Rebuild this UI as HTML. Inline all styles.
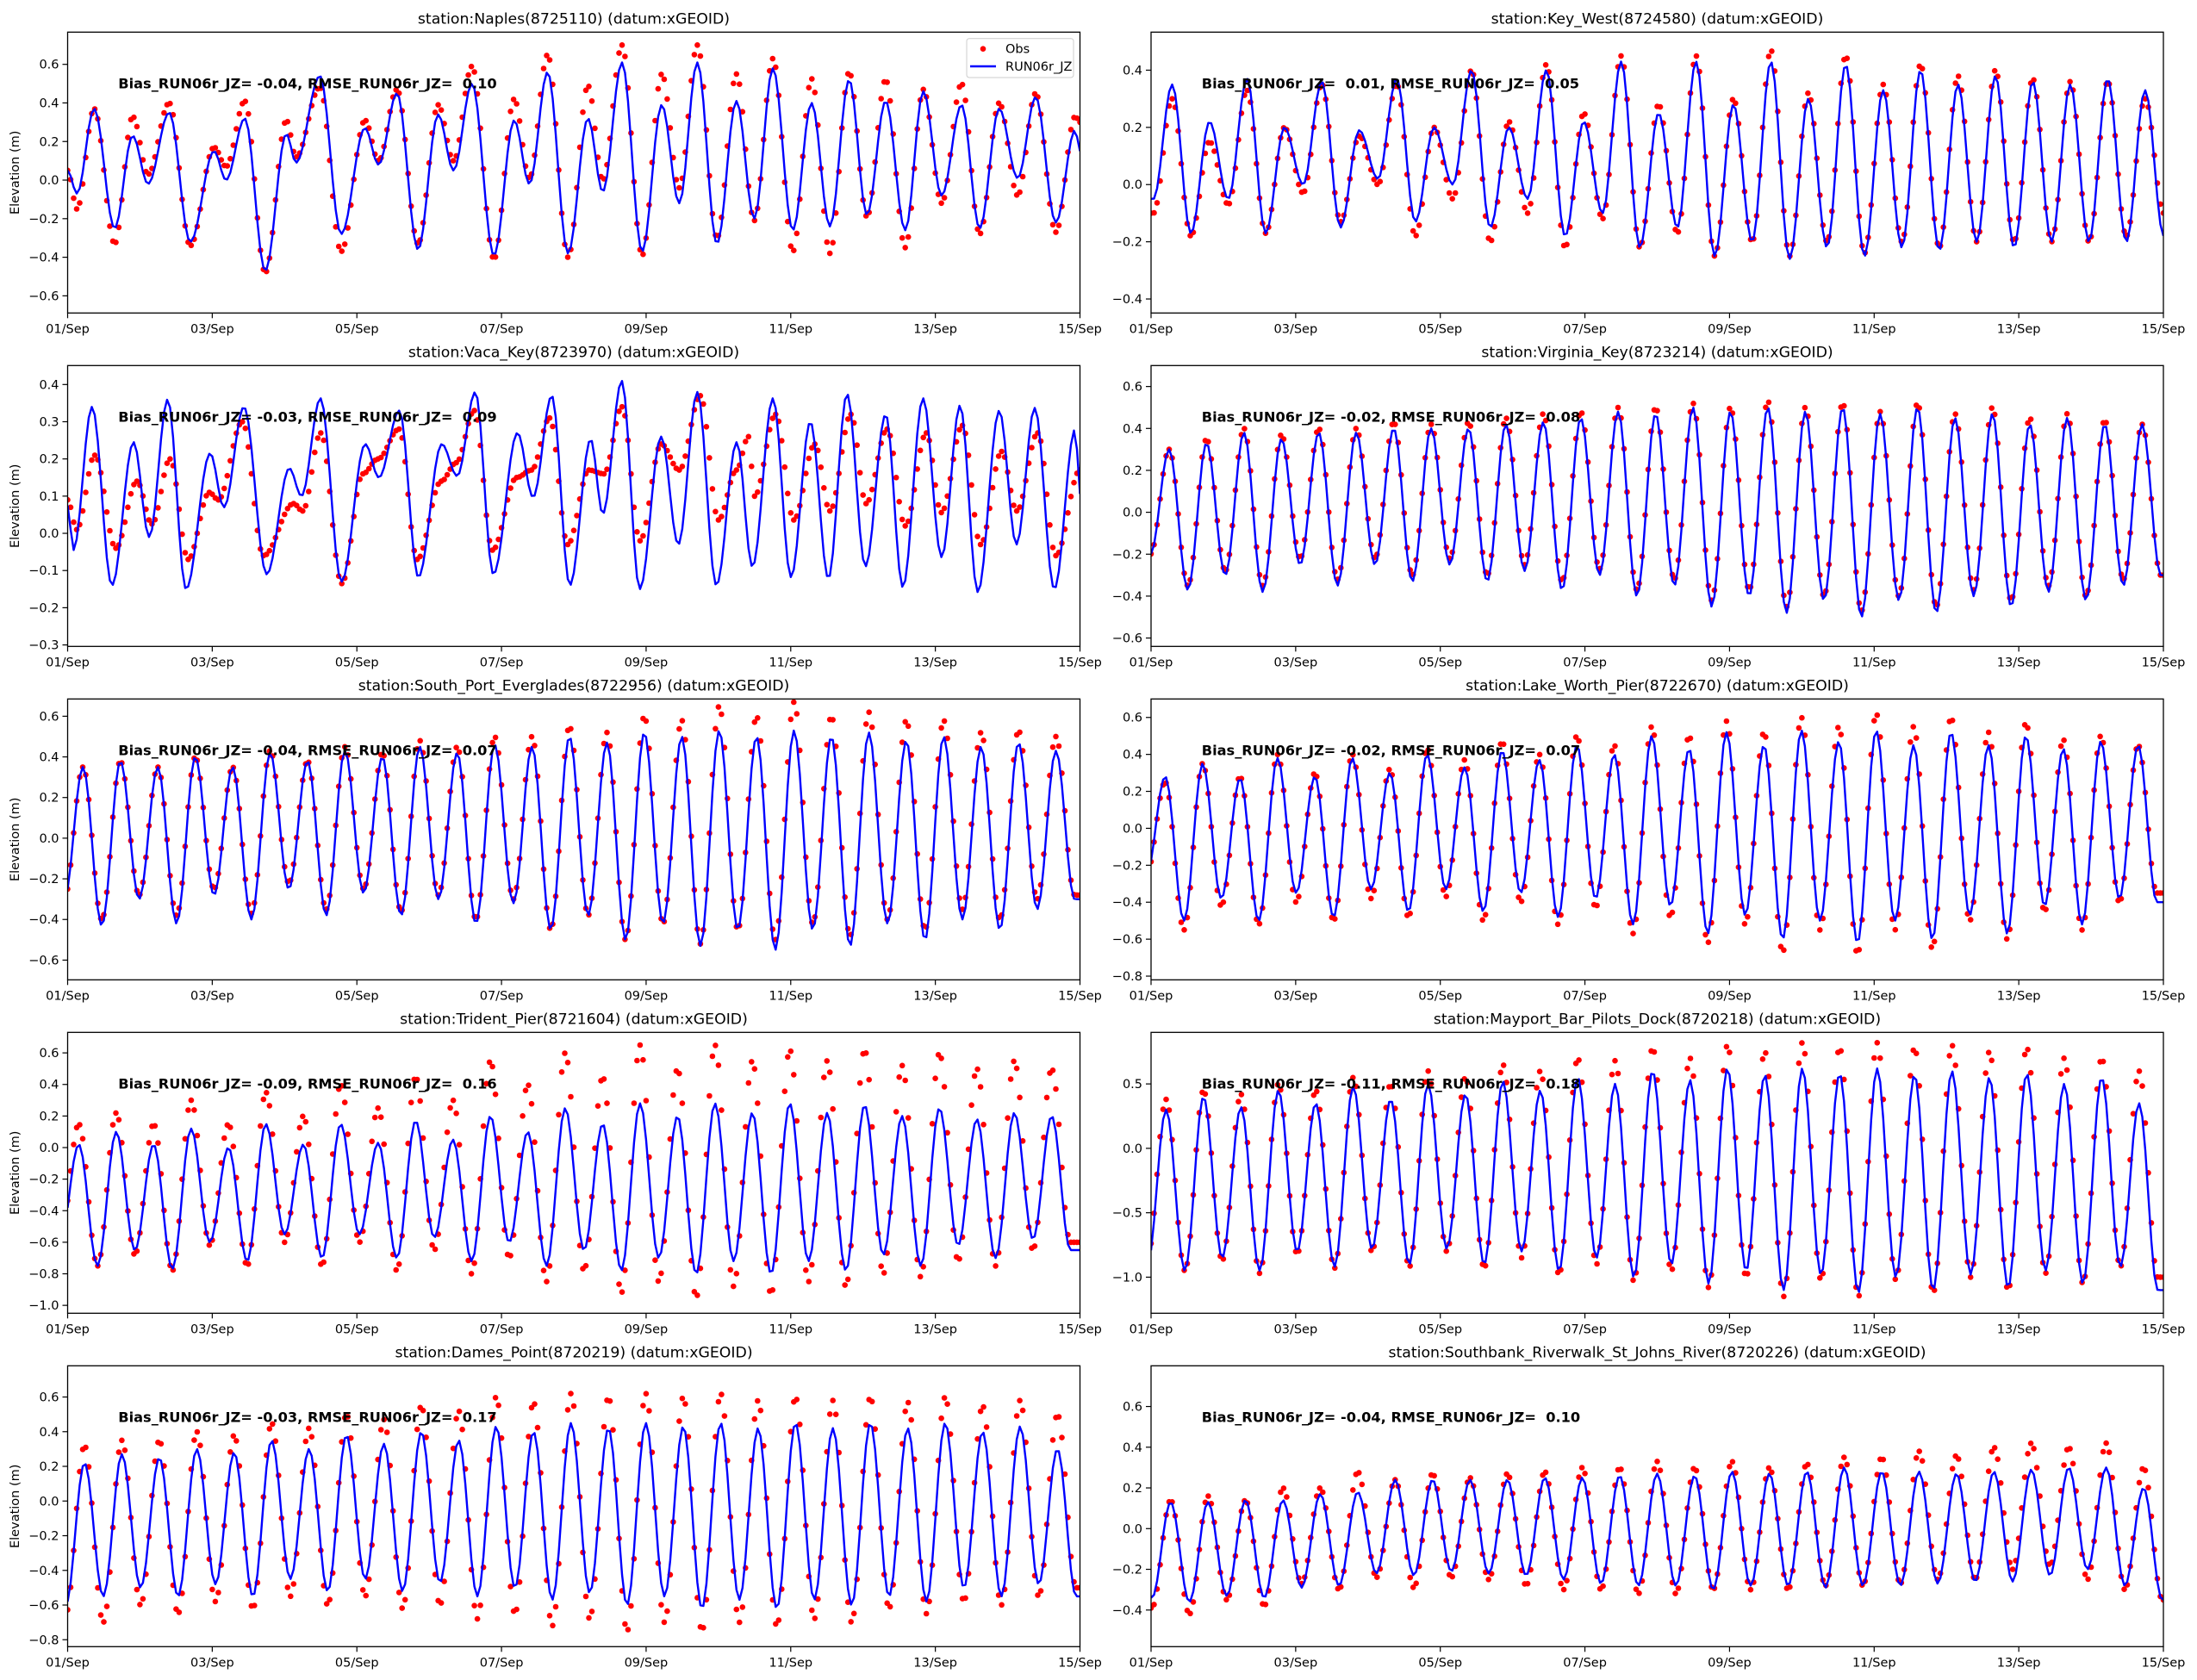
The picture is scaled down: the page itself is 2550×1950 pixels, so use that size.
<!DOCTYPE html>
<html><head><meta charset="utf-8">
<style>
html,body{margin:0;padding:0;background:#fff;}
svg{display:block;font-family:"DejaVu Sans","Liberation Sans",sans-serif;}
</style></head>
<body>
<svg id="fig" width="2550" height="1950" viewBox="0 0 2550 1950" xmlns="http://www.w3.org/2000/svg">
<rect width="2550" height="1950" fill="#fff"/>
</svg>
<script>
// ---------- data (hours from 01/Sep 00:00, elevation m) ----------
const xTickLabels = ["01/Sep","03/Sep","05/Sep","07/Sep","09/Sep","11/Sep","13/Sep","15/Sep"];
const stationNames = ["Naples(8725110)","Key_West(8724580)","Vaca_Key(8723970)","Virginia_Key(8723214)","South_Port_Everglades(8722956)","Lake_Worth_Pier(8722670)","Trident_Pier(8721604)","Mayport_Bar_Pilots_Dock(8720218)","Dames_Point(8720219)","Southbank_Riverwalk_St_Johns_River(8720226)"];
const biasValues = ["-0.04"," 0.01","-0.03","-0.02","-0.04","-0.02","-0.09","-0.11","-0.03","-0.04"];
const rmseValues = [" 0.10"," 0.05"," 0.09"," 0.08"," 0.07"," 0.07"," 0.16"," 0.18"," 0.17"," 0.10"];
const yLimits = [[-0.689,0.767],[-0.449,0.533],[-0.304,0.451],[-0.64,0.70],[-0.697,0.685],[-0.82,0.70],[-1.05,0.73],[-1.28,0.90],[-0.84,0.78],[-0.58,0.80]];
const yTickValues = [[-0.6,-0.4,-0.2,0,0.2,0.4,0.6],[-0.4,-0.2,0,0.2,0.4],[-0.3,-0.2,-0.1,0,0.1,0.2,0.3,0.4],[-0.6,-0.4,-0.2,0,0.2,0.4,0.6],[-0.6,-0.4,-0.2,0,0.2,0.4,0.6],[-0.8,-0.6,-0.4,-0.2,0,0.2,0.4,0.6],[-1.0,-0.8,-0.6,-0.4,-0.2,0,0.2,0.4,0.6],[-1.0,-0.5,0,0.5],[-0.8,-0.6,-0.4,-0.2,0,0.2,0.4,0.6],[-0.4,-0.2,0,0.2,0.4,0.6]];

const naplesT = [0,3.1,8.8,15.6,21.6,26.7,33.7,40.7,48.6,52.6,58.8,65.6,72.6,75.8,83.7,90.8,98.7,103.2,109.3,116.3,123,128.1,134.2,141.5,148.2,153.3,159.3,166.1,172.7,177.6,184,190.7,197.2,203,209,215.5,222,227.9,234.1,240.7,246.9,253,259.4,265.3,271.5,278,284,290.1,296.7,302.7,309.2,315.3,321.3,328,334.4,336];
const naplesModel = [0.05,-0.07,0.37,-0.25,0.23,-0.02,0.35,-0.32,0.15,0.0,0.32,-0.47,0.24,0.09,0.54,-0.28,0.27,0.08,0.45,-0.36,0.34,0.05,0.5,-0.39,0.31,-0.02,0.56,-0.38,0.32,-0.06,0.61,-0.37,0.39,-0.12,0.61,-0.33,0.41,-0.2,0.58,-0.26,0.40,-0.24,0.52,-0.18,0.41,-0.26,0.46,-0.08,0.39,-0.25,0.37,0.01,0.43,-0.22,0.26,0.15];
const naplesObs = [0.05,-0.15,0.37,-0.33,0.33,0.03,0.4,-0.34,0.17,0.07,0.41,-0.48,0.31,0.12,0.48,-0.37,0.31,0.1,0.47,-0.33,0.39,0.1,0.59,-0.41,0.42,0.01,0.65,-0.4,0.49,0.0,0.70,-0.39,0.55,-0.04,0.70,-0.3,0.55,-0.21,0.63,-0.37,0.525,-0.38,0.56,-0.19,0.52,-0.35,0.47,-0.12,0.5,-0.28,0.40,-0.08,0.45,-0.27,0.33,0.3];

const vacaT = [0,1.9,8.1,14.7,21.9,27.1,33.2,39.3,47.3,51.9,58.5,66.1,73.6,77.6,83.9,90.9,98.8,103.3,110.1,116.4,124.2,129.3,135.3,141.3,149.3,154.5,160.7,166.7,173.6,177.6,183.9,189.9,197,202.7,209,215.3,222.1,227.3,234.1,240.1,246.5,252.5,258.7,264.8,271.5,277.2,283.9,290.1,296.2,302.1,309.2,314.9,321,327.5,334.4,336];
const vacaModel = [0.075,-0.045,0.34,-0.14,0.245,-0.01,0.36,-0.15,0.215,0.07,0.34,-0.11,0.175,0.1,0.363,-0.13,0.24,0.15,0.33,-0.118,0.24,0.154,0.38,-0.11,0.27,0.097,0.37,-0.14,0.253,0.052,0.41,-0.15,0.26,-0.03,0.38,-0.14,0.245,-0.09,0.363,-0.118,0.3,-0.122,0.375,-0.089,0.32,-0.145,0.363,-0.064,0.344,-0.158,0.33,-0.03,0.337,-0.15,0.28,0.106];
const vacaObsT = [0,3,9,16,23,28,34,40,47,50,58,65,75,78,84,91,98,103,110,116,124,129,135,141,149,154,160,166,173,178,184,190,197,203,210,216,222,226,228,235,241,248,253,260,265,272,278,285,290,297,303,310,315,322,328,336];
const vacaObs = [0.09,0.01,0.21,-0.04,0.14,0.025,0.2,-0.07,0.11,0.09,0.3,-0.06,0.08,0.06,0.27,-0.135,0.16,0.2,0.28,-0.07,0.14,0.19,0.33,-0.045,0.15,0.17,0.31,-0.03,0.17,0.16,0.34,-0.02,0.24,0.17,0.37,0.036,0.17,0.26,0.1,0.32,0.036,0.24,0.06,0.32,0.08,0.28,0.02,0.27,0.056,0.29,-0.03,0.22,0.06,0.27,-0.06,0.17];

const firstHigh = {1:7,3:6,4:5.1,5:4.7,6:3.7,7:5,8:5.6,9:6.5};
const modelHighs = {
 1:[0.35,0.22,0.37,0.2,0.36,0.19,0.37,0.2,0.4,0.2,0.4,0.22,0.43,0.25,0.43,0.28,0.43,0.3,0.42,0.33,0.4,0.35,0.38,0.36,0.35,0.37,0.33],
 3:[0.3,0.33,0.38,0.35,0.38,0.38,0.4,0.4,0.4,0.42,0.43,0.45,0.48,0.47,0.5,0.48,0.5,0.48,0.5,0.47,0.5,0.45,0.47,0.42,0.45,0.42,0.42],
 4:[0.35,0.38,0.35,0.4,0.35,0.42,0.38,0.43,0.4,0.45,0.42,0.46,0.45,0.5,0.47,0.52,0.5,0.53,0.5,0.53,0.5,0.52,0.48,0.5,0.45,0.47,0.43],
 5:[0.28,0.35,0.27,0.38,0.28,0.38,0.3,0.4,0.33,0.42,0.37,0.45,0.4,0.5,0.43,0.52,0.45,0.53,0.47,0.53,0.45,0.52,0.45,0.5,0.43,0.47,0.45],
 6:[0.02,0.1,0.02,0.12,0.0,0.15,0.02,0.15,0.03,0.17,0.05,0.2,0.1,0.25,0.15,0.28,0.2,0.28,0.22,0.28,0.22,0.27,0.2,0.25,0.18,0.22,0.2],
 7:[0.3,0.4,0.32,0.45,0.35,0.48,0.38,0.5,0.42,0.52,0.45,0.55,0.5,0.6,0.53,0.62,0.57,0.62,0.58,0.62,0.57,0.6,0.55,0.58,0.5,0.55,0.35],
 8:[0.22,0.27,0.25,0.3,0.28,0.35,0.3,0.38,0.33,0.4,0.35,0.43,0.4,0.45,0.42,0.45,0.43,0.45,0.42,0.45,0.42,0.45,0.42,0.45,0.4,0.43,0.3],
 9:[0.13,0.13,0.14,0.14,0.17,0.18,0.24,0.24,0.24,0.24,0.25,0.25,0.26,0.27,0.26,0.28,0.27,0.28,0.3,0.28,0.28,0.27,0.28,0.29,0.3,0.3,0.2]
};
const modelLows = {
 1:[-0.05,-0.17,-0.05,-0.17,0.0,-0.15,0.02,-0.13,0.0,-0.15,-0.05,-0.18,-0.1,-0.22,-0.15,-0.25,-0.2,-0.26,-0.22,-0.25,-0.22,-0.23,-0.2,-0.22,-0.2,-0.2,-0.2,-0.18],
 3:[-0.2,-0.37,-0.3,-0.38,-0.25,-0.35,-0.25,-0.33,-0.25,-0.33,-0.28,-0.37,-0.3,-0.4,-0.35,-0.45,-0.4,-0.48,-0.42,-0.5,-0.42,-0.48,-0.4,-0.45,-0.38,-0.42,-0.35,-0.3],
 4:[-0.3,-0.43,-0.3,-0.42,-0.28,-0.4,-0.25,-0.38,-0.27,-0.38,-0.3,-0.42,-0.32,-0.45,-0.38,-0.5,-0.42,-0.53,-0.45,-0.55,-0.45,-0.53,-0.42,-0.5,-0.4,-0.45,-0.35,-0.3],
 5:[-0.25,-0.5,-0.38,-0.5,-0.35,-0.48,-0.33,-0.45,-0.33,-0.45,-0.35,-0.48,-0.38,-0.52,-0.42,-0.57,-0.47,-0.6,-0.5,-0.62,-0.5,-0.6,-0.47,-0.57,-0.42,-0.52,-0.38,-0.4],
 6:[-0.6,-0.75,-0.65,-0.77,-0.6,-0.72,-0.55,-0.7,-0.55,-0.7,-0.57,-0.72,-0.6,-0.75,-0.65,-0.78,-0.7,-0.8,-0.72,-0.8,-0.72,-0.78,-0.68,-0.75,-0.62,-0.7,-0.58,-0.65],
 7:[-0.9,-0.95,-0.85,-0.95,-0.8,-0.92,-0.78,-0.9,-0.78,-0.9,-0.8,-0.95,-0.85,-1.0,-0.9,-1.05,-0.95,-1.1,-0.98,-1.12,-1.0,-1.1,-0.98,-1.08,-0.95,-1.05,-0.92,-1.1],
 8:[-0.6,-0.55,-0.5,-0.55,-0.48,-0.55,-0.45,-0.52,-0.45,-0.52,-0.47,-0.55,-0.5,-0.57,-0.53,-0.6,-0.55,-0.62,-0.57,-0.62,-0.57,-0.6,-0.55,-0.58,-0.5,-0.55,-0.48,-0.55],
 9:[-0.34,-0.36,-0.33,-0.34,-0.29,-0.28,-0.22,-0.23,-0.21,-0.22,-0.23,-0.25,-0.27,-0.28,-0.28,-0.3,-0.28,-0.28,-0.29,-0.28,-0.28,-0.27,-0.26,-0.26,-0.23,-0.2,-0.28,-0.35]
};
const obsHighs = {
 1:[0.3,0.15,0.33,0.2,0.35,0.17,0.35,0.2,0.4,0.22,0.42,0.25,0.45,0.28,0.45,0.3,0.47,0.32,0.45,0.35,0.42,0.38,0.4,0.37,0.36,0.36,0.3],
 3:[0.3,0.35,0.4,0.37,0.4,0.4,0.43,0.42,0.43,0.45,0.47,0.48,0.5,0.5,0.52,0.5,0.53,0.5,0.52,0.48,0.52,0.47,0.5,0.45,0.47,0.44,0.42],
 4:[0.35,0.38,0.35,0.4,0.35,0.43,0.38,0.45,0.42,0.48,0.45,0.5,0.5,0.55,0.52,0.6,0.58,0.65,0.6,0.67,0.6,0.62,0.58,0.58,0.52,0.53,0.5],
 5:[0.25,0.35,0.28,0.4,0.3,0.4,0.32,0.43,0.37,0.47,0.4,0.5,0.45,0.55,0.5,0.58,0.52,0.6,0.55,0.62,0.55,0.6,0.52,0.57,0.48,0.5,0.45],
 6:[0.15,0.22,0.15,0.3,0.15,0.35,0.2,0.4,0.25,0.45,0.3,0.55,0.4,0.6,0.45,0.65,0.5,0.65,0.55,0.62,0.55,0.62,0.52,0.6,0.5,0.55,0.5],
 7:[0.38,0.45,0.42,0.5,0.45,0.55,0.5,0.6,0.55,0.65,0.6,0.7,0.68,0.78,0.7,0.8,0.75,0.82,0.78,0.82,0.78,0.8,0.75,0.78,0.7,0.7,0.6],
 8:[0.32,0.35,0.35,0.4,0.38,0.45,0.42,0.5,0.47,0.55,0.52,0.6,0.57,0.62,0.6,0.62,0.6,0.62,0.58,0.6,0.58,0.6,0.57,0.6,0.55,0.58,0.5],
 9:[0.14,0.16,0.14,0.2,0.2,0.28,0.24,0.27,0.25,0.27,0.28,0.3,0.3,0.33,0.3,0.33,0.3,0.32,0.35,0.35,0.38,0.36,0.4,0.42,0.4,0.42,0.3]
};
const obsLows = {
 1:[-0.1,-0.18,-0.07,-0.17,-0.03,-0.13,0.0,-0.18,-0.05,-0.2,-0.1,-0.22,-0.12,-0.22,-0.17,-0.25,-0.2,-0.25,-0.2,-0.24,-0.2,-0.22,-0.2,-0.2,-0.2,-0.2,-0.18,-0.1],
 3:[-0.2,-0.35,-0.28,-0.35,-0.22,-0.32,-0.22,-0.3,-0.22,-0.3,-0.25,-0.33,-0.27,-0.37,-0.32,-0.42,-0.37,-0.45,-0.4,-0.47,-0.4,-0.45,-0.37,-0.42,-0.35,-0.4,-0.32,-0.3],
 4:[-0.3,-0.4,-0.28,-0.38,-0.25,-0.37,-0.22,-0.35,-0.25,-0.36,-0.28,-0.4,-0.3,-0.45,-0.38,-0.5,-0.42,-0.52,-0.45,-0.5,-0.42,-0.48,-0.4,-0.45,-0.35,-0.4,-0.3,-0.28],
 5:[-0.25,-0.55,-0.42,-0.52,-0.4,-0.5,-0.38,-0.48,-0.37,-0.5,-0.4,-0.52,-0.43,-0.57,-0.48,-0.62,-0.52,-0.67,-0.55,-0.68,-0.55,-0.65,-0.5,-0.6,-0.45,-0.55,-0.4,-0.35],
 6:[-0.6,-0.75,-0.68,-0.78,-0.62,-0.75,-0.6,-0.75,-0.6,-0.78,-0.65,-0.8,-0.7,-0.85,-0.78,-0.92,-0.85,-0.95,-0.88,-0.93,-0.85,-0.88,-0.8,-0.82,-0.72,-0.75,-0.65,-0.6],
 7:[-0.85,-0.95,-0.87,-0.97,-0.82,-0.93,-0.8,-0.92,-0.8,-0.93,-0.85,-0.98,-0.9,-1.03,-0.95,-1.08,-1.0,-1.15,-1.02,-1.15,-1.02,-1.12,-1.0,-1.1,-0.97,-1.05,-0.92,-1.0],
 8:[-0.65,-0.7,-0.6,-0.65,-0.58,-0.62,-0.55,-0.6,-0.55,-0.62,-0.6,-0.68,-0.65,-0.72,-0.68,-0.75,-0.7,-0.75,-0.7,-0.72,-0.68,-0.7,-0.62,-0.65,-0.58,-0.6,-0.55,-0.5],
 9:[-0.39,-0.42,-0.35,-0.38,-0.27,-0.3,-0.24,-0.29,-0.24,-0.25,-0.28,-0.3,-0.3,-0.32,-0.32,-0.3,-0.3,-0.3,-0.28,-0.28,-0.27,-0.25,-0.25,-0.2,-0.18,-0.25,-0.3,-0.35]
};
const tidePeriod = 12.42;

// ---------- rendering ----------
const NS = "http://www.w3.org/2000/svg";
const fig = document.getElementById("fig");
const colLeft = [78.5, 1336], axW = 1175, axH = 326, rowTop0 = 37.3, rowStep = 387;

function mk(tag, attrs, parent) {
  const e = document.createElementNS(NS, tag);
  for (const k in attrs) e.setAttribute(k, attrs[k]);
  (parent || fig).appendChild(e);
  return e;
}
function fmt(v) {
  return (v < -1e-9 ? "\u2212" : "") + Math.abs(v).toFixed(1);
}
function extremesFromRegular(i) {
  const T = [], M = [], O = [];
  const lows = modelLows[i], highs = modelHighs[i], ol = obsLows[i], oh = obsHighs[i];
  const t0 = firstHigh[i] - tidePeriod / 2;
  for (let k = 0; k < lows.length; k++) {
    T.push(t0 + k * tidePeriod); M.push(lows[k]); O.push(ol[k]);
    if (k < highs.length) { T.push(t0 + k * tidePeriod + tidePeriod / 2); M.push(highs[k]); O.push(oh[k]); }
  }
  return {T, M, O};
}
function evalCurve(T, V, t) {
  if (t <= T[0]) return V[0];
  if (t >= T[T.length - 1]) return V[V.length - 1];
  let k = 0;
  while (k < T.length - 2 && T[k + 1] < t) k++;
  const f = (t - T[k]) / (T[k + 1] - T[k]);
  return V[k] + (V[k + 1] - V[k]) * (1 - Math.cos(Math.PI * f)) / 2;
}

for (let i = 0; i < 10; i++) {
  const col = i % 2, row = Math.floor(i / 2);
  const L = colLeft[col], Tp = rowTop0 + row * rowStep;
  const [y0, y1] = yLimits[i];
  const xs = h => L + h / 336 * axW;
  const ys = v => Tp + (y1 - v) / (y1 - y0) * axH;

  const g = mk("g", {});
  
  

  const clipId = "clip" + i;
  const cp = mk("clipPath", {id: clipId}, g);
  mk("rect", {x: L, y: Tp, width: axW, height: axH}, cp);

  let mT, mV, oT, oV;
  if (i === 0) { mT = naplesT; mV = naplesModel; oT = naplesT; oV = naplesObs; }
  else if (i === 2) { mT = vacaT; mV = vacaModel; oT = vacaObsT; oV = vacaObs; }
  else { const r = extremesFromRegular(i); mT = r.T; mV = r.M; oT = r.T; oV = r.O; }

  const dots = mk("g", {"clip-path": "url(#" + clipId + ")", fill: "#ff0000"}, g);
  
  
  for (let h = 0; h <= 336; h++) {
    mk("circle", {cx: xs(h).toFixed(1), cy: ys(evalCurve(oT, oV, h)).toFixed(1), r: 3.3}, dots);
  }
  let d = "";
  for (let h = 0; h <= 336; h++) d += (h ? "L" : "M") + xs(h).toFixed(1) + " " + ys(evalCurve(mT, mV, h)).toFixed(1);
  const line = mk("path", {d: d, fill: "none", stroke: "#0000ff", "stroke-width": 2.4, "stroke-linejoin": "round", "clip-path": "url(#" + clipId + ")"}, g);
  
  

  const fr = mk("rect", {x: L, y: Tp, width: axW, height: axH, fill: "none", stroke: "#000", "stroke-width": 1.3}, g);
  
  

  xTickLabels.forEach((lab, k) => {
    const x = xs(k * 48);
    mk("line", {x1: x, y1: Tp + axH, x2: x, y2: Tp + axH + 6, stroke: "#000", "stroke-width": 1.2}, g);
    const t = mk("text", {x: x, y: Tp + axH + 23, "font-size": 14.5, "text-anchor": "middle", fill: "#000"}, g);
    t.textContent = lab;
    
    
  });
  yTickValues[i].forEach(v => {
    const y = ys(v);
    mk("line", {x1: L - 6, y1: y, x2: L, y2: y, stroke: "#000", "stroke-width": 1.2}, g);
    const t = mk("text", {x: L - 10, y: y + 5, "font-size": 14.5, "text-anchor": "end", fill: "#000"}, g);
    t.textContent = fmt(v);
    
    
  });
  const ti = mk("text", {x: L + axW / 2, y: Tp - 10, "font-size": 17.3, "text-anchor": "middle", fill: "#000"}, g);
  ti.textContent = "station:" + stationNames[i] + " (datum:xGEOID)";
  
  
  const an = mk("text", {x: L + 0.05 * axW, y: Tp + 0.2 * axH, "font-size": 16.2, "font-weight": "bold", fill: "#000", "xml:space": "preserve", style: "white-space:pre"}, g);
  an.textContent = "Bias_RUN06r_JZ= " + biasValues[i] + ", RMSE_RUN06r_JZ= " + rmseValues[i];
  
  
  if (col === 0) {
    const cy = Tp + axH / 2;
    const yl = mk("text", {x: 22, y: cy, "font-size": 14.5, "text-anchor": "middle", transform: "rotate(-90 22 " + cy + ")", fill: "#000"}, g);
    yl.textContent = "Elevation (m)";
    
    
  }
}

const lg = mk("g", {});


mk("rect", {x: 1122, y: 44.7, width: 124, height: 45.3, rx: 3, fill: "#fff", "fill-opacity": 0.85, stroke: "#cccccc", "stroke-width": 1}, lg);
const le1 = mk("circle", {cx: 1141, cy: 56.7, r: 3.3, fill: "#ff0000"}, lg);


const lt1 = mk("text", {x: 1167, y: 61.5, "font-size": 14.5, fill: "#000"}, lg);
lt1.textContent = "Obs";


const le2 = mk("line", {x1: 1126, y1: 77, x2: 1156, y2: 77, stroke: "#0000ff", "stroke-width": 2.4}, lg);


const lt2 = mk("text", {x: 1167, y: 82, "font-size": 14.5, fill: "#000"}, lg);
lt2.textContent = "RUN06r_JZ";


</script>
</body></html>
